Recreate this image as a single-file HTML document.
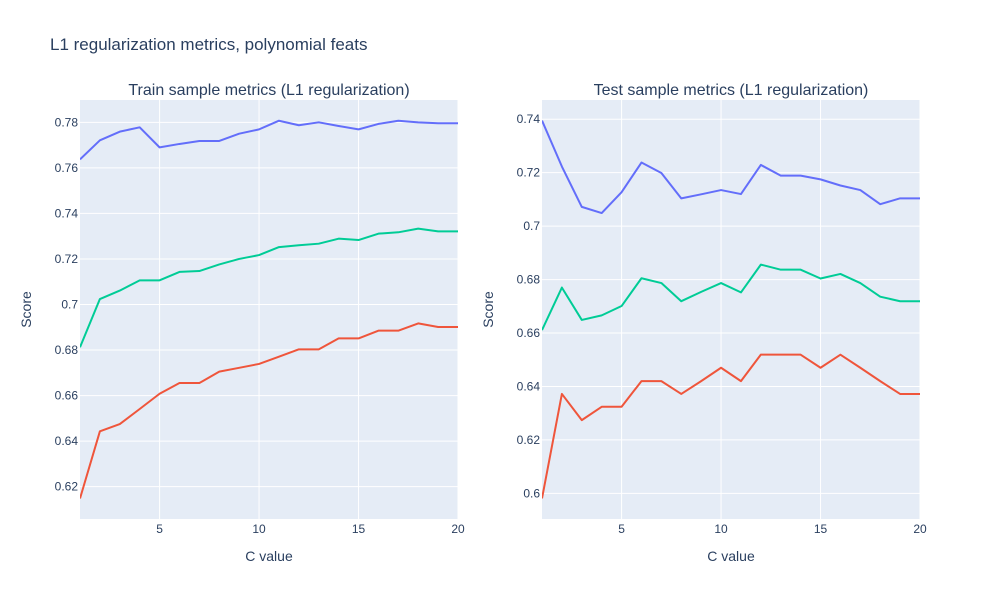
<!DOCTYPE html>
<html><head><meta charset="utf-8"><style>
body{margin:0;background:#fff;font-family:"Liberation Sans",Arial,sans-serif;}
svg text{font-family:"Liberation Sans",Arial,sans-serif;}
</style></head><body>
<svg id="chart" width="1000" height="600" xmlns="http://www.w3.org/2000/svg">
<rect width="1000" height="600" fill="#fff"/>
<text x="50" y="50" font-size="17" fill="#2a3f5f">L1 regularization metrics, polynomial feats</text>
</svg>
<script>
const cValues=[1,2,3,4,5,6,7,8,9,10,11,12,13,14,15,16,17,18,19,20];
const trainBlue=[.7637,.7721,.7759,.7778,.7690,.7705,.7718,.7718,.7750,.7769,.7807,.7787,.78,.7784,.7769,.7793,.7807,.78,.7796,.7796];
const trainGreen=[.6812,.7024,.7061,.7106,.7106,.7143,.7147,.7176,.7200,.7217,.7252,.7260,.7267,.7289,.7283,.7311,.7317,.7333,.7321,.7321];
const trainRed=[.6148,.6443,.6475,.6541,.6608,.6655,.6655,.6705,.6722,.6739,.6771,.6803,.6803,.6851,.6851,.6885,.6885,.6917,.6901,.6901];
const testBlue=[.7395,.7223,.7072,.7049,.7127,.7238,.7199,.7104,.7119,.7135,.7120,.7229,.7189,.7189,.7175,.7152,.7135,.7082,.7104,.7104];
const testGreen=[.6611,.6770,.6649,.6666,.6701,.6805,.6787,.6719,.6754,.6787,.6752,.6856,.6837,.6837,.6804,.6821,.6787,.6736,.6719,.6719];
const testRed=[.5981,.6372,.6274,.6324,.6324,.6420,.6420,.6372,.6420,.6470,.6420,.6519,.6519,.6519,.6470,.6519,.6470,.6420,.6372,.6372];
const xTicks=[5,10,15,20];
const trainYTicks=[.62,.64,.66,.68,.70,.72,.74,.76,.78];
const trainYLabels=["0.62","0.64","0.66","0.68","0.7","0.72","0.74","0.76","0.78"];
const testYTicks=[.60,.62,.64,.66,.68,.70,.72,.74];
const testYLabels=["0.6","0.62","0.64","0.66","0.68","0.7","0.72","0.74"];
const colors=["#636efa","#00cc96","#EF553B"];
const NS="http://www.w3.org/2000/svg";
const svg=document.getElementById('chart');
function mk(tag,attrs,parent){const e=document.createElementNS(NS,tag);for(const k in attrs)e.setAttribute(k,attrs[k]);(parent||svg).appendChild(e);return e;}
function panel(cfg){
  const {x0,x1,y0,y1,ymin,ymax,series,yt,yl,title,prefix}=cfg;
  const g=mk('g',{});
  
  
  const sx=v=>x0+(v-1)/(19)*(x1-x0);
  const sy=v=>y1-(v-ymin)/(ymax-ymin)*(y1-y0);
  const bg=mk('rect',{x:x0,y:y0,width:x1-x0,height:y1-y0,fill:'#e5ecf6'},g);
  
  
  yt.forEach((v,i)=>{
    const y=sy(v);
    const l=mk('line',{x1:x0,x2:x1,y1:y,y2:y,stroke:'#fff','stroke-width':1},g);
    
    
    const t=mk('text',{x:x0-2,y:y+4,'font-size':12,fill:'#2a3f5f','text-anchor':'end'},g);
    t.textContent=yl[i];
    
    
  });
  xTicks.forEach(v=>{
    const x=sx(v);
    const l=mk('line',{x1:x,x2:x,y1:y0,y2:y1,stroke:'#fff','stroke-width':1},g);
    
    
    const t=mk('text',{x:x,y:y1+14,'font-size':12,fill:'#2a3f5f','text-anchor':'middle'},g);
    t.textContent=String(v);
    
    
  });
  const cp=mk('clipPath',{id:prefix+'clip'},g);
  mk('rect',{x:x0,y:y0,width:x1-x0,height:y1-y0},cp);
  series.forEach((s,i)=>{
    const p=mk('polyline',{points:s.map((v,j)=>sx(cValues[j])+','+sy(v)).join(' '),fill:'none',stroke:colors[i],'stroke-width':2,'stroke-linejoin':'round','clip-path':'url(#'+prefix+'clip)'},g);
    
    
  });
  const tt=mk('text',{x:(x0+x1)/2,y:y0-5,'font-size':16,fill:'#2a3f5f','text-anchor':'middle'},g);
  tt.textContent=title;
  
  
  const xt=mk('text',{x:(x0+x1)/2,y:561,'font-size':14,fill:'#2a3f5f','text-anchor':'middle'},g);
  xt.textContent='C value';
  
  
  const ya=mk('text',{x:0,y:0,'font-size':14,fill:'#2a3f5f','text-anchor':'middle',transform:'translate('+(x0-49)+','+((y0+y1)/2)+') rotate(-90)'},g);
  ya.textContent='Score';
  
  
}
panel({x0:80,x1:458,y0:100,y1:519,ymin:.6058,ymax:.7898,series:[trainBlue,trainGreen,trainRed],yt:trainYTicks,yl:trainYLabels,title:'Train sample metrics (L1 regularization)',prefix:'train'});
panel({x0:542,x1:920,y0:100,y1:519,ymin:.5904,ymax:.7472,series:[testBlue,testGreen,testRed],yt:testYTicks,yl:testYLabels,title:'Test sample metrics (L1 regularization)',prefix:'test'});
</script>
</body></html>
